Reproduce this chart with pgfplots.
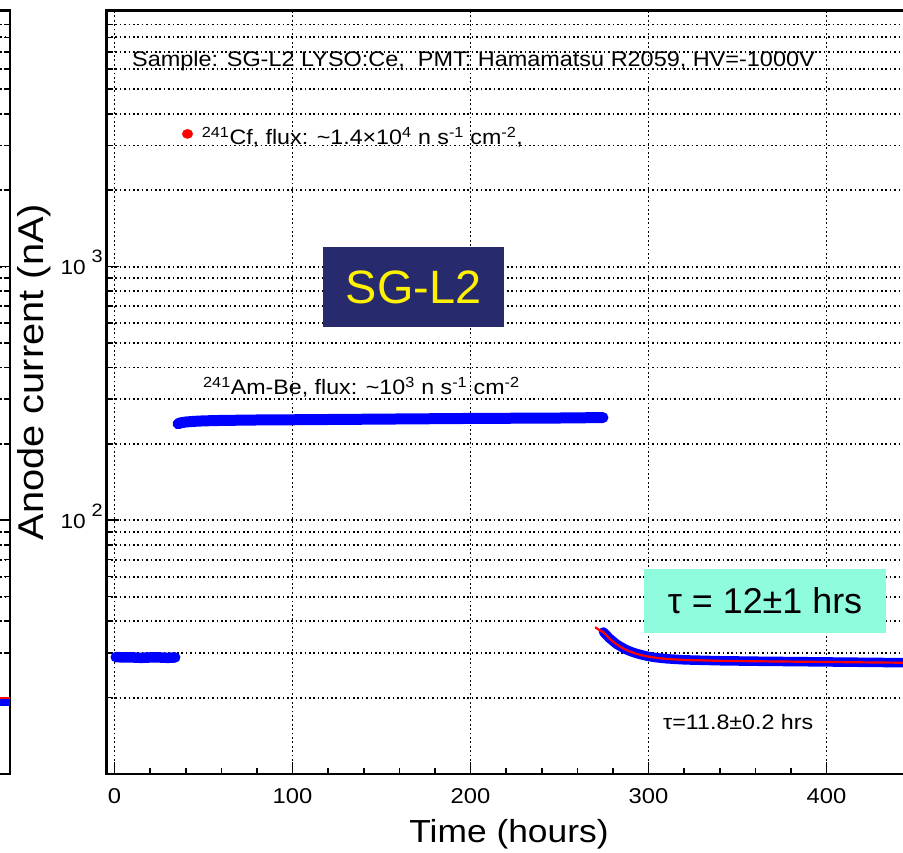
\documentclass[border=0pt]{standalone}
\usepackage{pgfplots}
\pgfplotsset{compat=1.18}
\usepackage{fontspec}
\setmainfont{Liberation Sans}[FakeStretch=1.11]
\newfontfamily\slidefont{Liberation Sans}
\definecolor{navybox}{RGB}{40,42,110}
\definecolor{mintbox}{RGB}{143,252,222}

\pgfplotstableread{
x y
0.7 28.9
5 28.8
10 28.8
15 28.7
20 28.8
25 28.8
30 28.7
34.1 28.8
}\bandA
\pgfplotstableread{
x y
35.7 240
37 242
40 244
45 245.5
50 246.5
60 247.5
80 248.5
100 249
150 250.5
200 252
250 253
274.4 254
}\bandB
\pgfplotstableread{
x y
274.7 36.3
276 35.5
278 34.3
280 33.4
282 32.5
284 31.9
286 31.3
288 30.8
290 30.4
293 29.9
296 29.5
300 29.05
305 28.7
310 28.46
320 28.18
340 27.95
360 27.83
380 27.74
400 27.65
420 27.56
443 27.46
460 27.38
500 27.2
}\decay
\pgfplotstableread{
x y
270 37.9
272 37.1
274.7 36.2
276 35.4
278 34.2
280 33.3
282 32.5
284 31.8
286 31.2
288 30.7
290 30.3
293 29.8
296 29.4
300 29.0
305 28.65
310 28.42
320 28.15
340 27.93
360 27.82
380 27.73
400 27.64
420 27.55
443 27.45
460 27.37
500 27.2
}\fit

\begin{document}
\begin{tikzpicture}[x=1bp,y=1bp]
\useasboundingbox (0,0) rectangle (903,853);
\clip (0,0) rectangle (903,853);
\fill[white] (0,0) rectangle (903,853);

\pgfplotsset{
  rootgrid/.style={black, line width=1.9bp, dash pattern=on 1.7bp off 2.7bp},
  logminors/.style={minor ytick={20,30,40,50,60,70,80,90,200,300,400,500,600,700,800,900,2000,3000,4000,5000,6000,7000,8000,9000}},
}

% fragment of the neighbouring panel on the left
\begin{axis}[
  at={(10bp,79bp)}, anchor=south east,
  scale only axis, width=300bp, height=763.3bp,
  xmin=0, xmax=100, ymode=log, ymin=10, ymax=10200,
  axis line style={line width=2.5bp, black},
  tick align=inside, ytick pos=right, xtick=\empty,
  ytick={100,1000}, yticklabels={{},{}},
  yticklabel style={opacity=0},
  logminors,
  ymajorgrids, yminorgrids,
  major grid style={rootgrid}, minor grid style={rootgrid},
  major tick length=12bp, minor tick length=6.5bp,
  tick style={black, line width=1.6bp},
]
\addplot[blue, line width=8bp, no marks] coordinates {(60,19.3) (100,19.3)};
\addplot[red, line width=2bp, no marks] coordinates {(60,19.9) (100,19.9)};
\end{axis}

% main panel
\begin{axis}[
  at={(106.5bp,79bp)}, anchor=south west,
  scale only axis, width=898bp, height=763.3bp,
  xmin=-4.5, xmax=500, ymode=log, ymin=10, ymax=10200,
  axis line style={line width=2.5bp, black},
  tick align=inside, tick pos=left,
  xtick={0,100,200,300,400}, xticklabels={0,100,200,300,400},
  minor x tick num=4,
  ytick={100,1000},
  yticklabels={{10\hspace{6bp}\raisebox{12bp}{\fontsize{18}{18}\selectfont 2}},{10\hspace{6bp}\raisebox{12bp}{\fontsize{18}{18}\selectfont 3}}},
  logminors,
  xmajorgrids, ymajorgrids, yminorgrids,
  major grid style={rootgrid}, minor grid style={rootgrid},
  major tick length=12bp, minor tick length=6.5bp,
  tick style={black, line width=1.6bp},
  xticklabel style={font=\fontsize{21.5}{21.5}\selectfont, anchor=north, inner sep=0pt, yshift=-14bp},
  yticklabel style={font=\fontsize{20.5}{20.5}\selectfont, anchor=base east, inner sep=0pt, xshift=-3.5bp, yshift=-8.3bp},
]
\addplot[blue, line width=10.5bp, line cap=round, line join=round, no marks] table {\bandA};
\addplot[blue, line width=11bp, line cap=round, line join=round, no marks] table {\bandB};
\addplot[blue, line width=9.5bp, line cap=round, line join=round, no marks] table {\decay};
\addplot[red, line width=2.2bp, no marks] table {\fit};
\addplot[only marks, mark=*, red, mark size=4.6bp, mark options={xscale=1.15}] coordinates {(41,3334)};
\end{axis}

% texts
\node[anchor=base west, inner sep=0, font=\fontsize{21.2}{21.2}\selectfont] at (132,786.5)
  {Sample: SG-L2 LYSO:Ce,\ \ PMT: Hamamatsu R2059, HV=-1000V};
\node[anchor=base west, inner sep=0, font=\fontsize{21}{21}\selectfont] at (201.7,708)
  {\textsuperscript{241}Cf, flux: \textasciitilde1.4×10\textsuperscript{4} n s\textsuperscript{-1} cm\textsuperscript{-2},};
\node[anchor=base west, inner sep=0, font=\fontsize{21}{21}\selectfont] at (203,458)
  {\textsuperscript{241}Am-Be, flux: \textasciitilde10\textsuperscript{3} n s\textsuperscript{-1} cm\textsuperscript{-2}};
\node[anchor=base west, inner sep=0, font=\fontsize{21}{21}\selectfont] at (663,123)
  {τ=11.8±0.2 hrs};

\node[fill=navybox, text=yellow, minimum width=181bp, minimum height=80bp, inner sep=0,
  font=\slidefont\fontsize{47}{47}\selectfont] at (413.5,566) {SG-L2};
\node[fill=mintbox, text=black, minimum width=242bp, minimum height=64bp, inner sep=0,
  font=\slidefont\fontsize{36}{36}\selectfont] at (765,252) {τ = 12±1 hrs};

\node[rotate=90, anchor=base, inner sep=0, font=\fontsize{36}{36}\selectfont] at (43,481)
  {Anode current (nA)};
\node[anchor=base, inner sep=0, font=\fontsize{32}{32}\selectfont] at (509,10)
  {Time (hours)};
\end{tikzpicture}
\end{document}
